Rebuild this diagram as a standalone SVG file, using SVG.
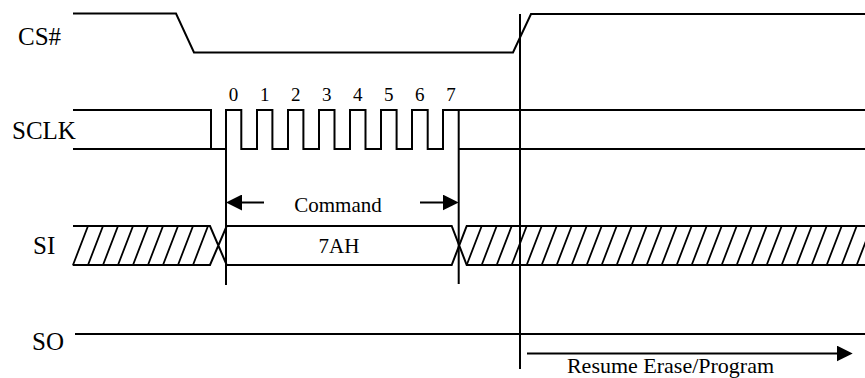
<svg xmlns="http://www.w3.org/2000/svg" width="865" height="378" viewBox="0 0 865 378">
<style>
.w{fill:none;stroke:#000;stroke-width:2}
.h{fill:none;stroke:#000;stroke-width:1.8}
.lbl{font-family:'Liberation Serif','Times New Roman',Tinos,'DejaVu Serif',serif;font-size:25px;fill:#000}
.t{font-family:'Liberation Serif','Times New Roman',Tinos,'DejaVu Serif',serif;fill:#000;text-anchor:middle}
</style>
<defs>
<marker id="ah" markerUnits="userSpaceOnUse" markerWidth="16" markerHeight="16" refX="12" refY="8" orient="auto">
<path d="M0,0 L16,8 L0,16 z" fill="#000"/>
</marker>
</defs>
<rect width="865" height="378" fill="#fff"/>
<g id="cs">
<text class="lbl" font-family="Liberation Serif, serif" x="18" y="45">CS#</text>
<path class="w" d="M73,13.5 H176 L194,52.5 H513 L531,14 H865"/>
</g>
<g id="sclk">
<text class="lbl" font-family="Liberation Serif, serif" x="12" y="139">SCLK</text>
<path class="w" d="M73,110 H211 V149 M73,149 H226 V110 H241.3 V149 H257 V110 H272.4 V149 H288 V110 H303.4 V149 H319 V110 H334.5 V149 H350 V110 H365.5 V149 H381 V110 H396.6 V149 H412 V110 H427.7 V149 H443 V110 H458.7 M458.7,110 H865 M458.7,149 H865"/>
<g class="t" font-family="Liberation Serif, serif" font-size="19">
<text x="233.6" y="101">0</text>
<text x="264.7" y="101">1</text>
<text x="295.7" y="101">2</text>
<text x="326.7" y="101">3</text>
<text x="357.8" y="101">4</text>
<text x="388.8" y="101">5</text>
<text x="419.8" y="101">6</text>
<text x="450.9" y="101">7</text>
</g>
</g>
<g id="si">
<text class="lbl" font-family="Liberation Serif, serif" x="33" y="254">SI</text>
<path class="w" d="M73,226 H210 L226.7,265 H451.7 L466.7,226 H865 M72.7,265 H210 L226.7,226 H451.7 L466.7,265 H865"/>
<path class="h" d="M73,265L88,226 M88,265L103,226 M103,265L118,226 M118,265L133,226 M133,265L148,226 M148,265L163,226 M163,265L178,226 M178,265L193,226 M193,265L208,226"/>
<path class="h" d="M466.7,265l15,-39 M481.7,265l15,-39 M496.7,265l15,-39 M511.7,265l15,-39 M526.7,265l15,-39 M541.7,265l15,-39 M556.7,265l15,-39 M571.7,265l15,-39 M586.7,265l15,-39 M601.7,265l15,-39 M616.7,265l15,-39 M631.7,265l15,-39 M646.7,265l15,-39 M661.7,265l15,-39 M676.7,265l15,-39 M691.7,265l15,-39 M706.7,265l15,-39 M721.7,265l15,-39 M736.7,265l15,-39 M751.7,265l15,-39 M766.7,265l15,-39 M781.7,265l15,-39 M796.7,265l15,-39 M811.7,265l15,-39 M826.7,265l15,-39 M841.7,265l15,-39 M856.7,265l15,-39"/>
<text class="t" font-family="Liberation Serif, serif" font-size="21" x="339" y="253">7AH</text>
</g>
<g id="so">
<text class="lbl" font-family="Liberation Serif, serif" x="32" y="350">SO</text>
<path class="w" d="M75,334 H865"/>
</g>
<g id="connectors">
<path class="w" d="M226,110 V285 M458.7,110 V284 M520,14 V369"/>
<line class="w" x1="264" y1="202.5" x2="230" y2="202.5" marker-end="url(#ah)"/>
<line class="w" x1="420" y1="202.5" x2="454.7" y2="202.5" marker-end="url(#ah)"/>
<text class="t" font-family="Liberation Serif, serif" font-size="21" x="338" y="212">Command</text>
<line class="w" x1="527" y1="353.5" x2="848.7" y2="353.5" marker-end="url(#ah)"/>
<text class="t" font-family="Liberation Serif, serif" font-size="22" x="670.5" y="373">Resume Erase/Program</text>
</g>
</svg>
